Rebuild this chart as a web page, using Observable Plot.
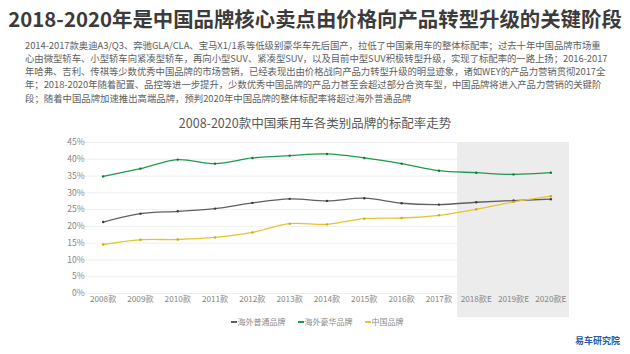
<!DOCTYPE html>
<html>
<head>
<meta charset="utf-8">
<script src="https://cdn.jsdelivr.net/npm/d3@7"></script>
<script src="https://cdn.jsdelivr.net/npm/@observablehq/plot@0.6"></script>
<style>
  html, body { margin: 0; padding: 0; background: #fff; }
  body { width: 630px; height: 354px; position: relative; overflow: hidden;
         font-family: "Noto Sans CJK SC", "Noto Sans", sans-serif; }
  #title { position: absolute; left: 0; top: 5px; width: 630px; text-align: center;
           font-size: 20.4px; font-weight: 700; color: #3b3b3b; line-height: 26px; white-space: nowrap; }
  #para { position: absolute; left: 25px; top: 38.5px; width: 600px; font-size: 9.4px; color: #5e5e5e; line-height: 13.25px; }
  #para div { white-space: nowrap; }
  #ctitle { position: absolute; left: 0; top: 114px; width: 630px; text-align: center;
            font-size: 12.5px; color: #595959; line-height: 18px; white-space: nowrap; }
  #chart { position: absolute; left: 0; top: 130px; }
  #legend { position: absolute; left: 0; top: 316px; width: 630px; display: flex; justify-content: center;
            gap: 12px; font-size: 8px; color: #8a8a8a; line-height: 12px; padding-left: 2px; }
  #legend .item { display: flex; align-items: center; }
  #legend .sw { width: 6px; height: 1.2px; margin-right: 1px; position: relative; }
  #logo { position: absolute; left: 575px; top: 334px; font-size: 9px; font-weight: 700; color: #2a5aa0; line-height: 14px; }
</style>
</head>
<body>
<div id="title"></div>
<div id="para"></div>
<div id="ctitle"></div>
<div id="chart"></div>
<div id="legend"></div>
<div id="logo">易车研究院</div>
<script>
const mainTitle = "2018-2020年是中国品牌核心卖点由价格向产品转型升级的关键阶段";
const paragraphLines = [
  "2014-2017款奥迪A3/Q3、奔驰GLA/CLA、宝马X1/1系等低级别豪华车先后国产，拉低了中国乘用车的整体标配率；过去十年中国品牌市场重",
  "心由微型轿车、小型轿车向紧凑型轿车，再向小型SUV、紧凑型SUV，以及目前中型SUV积极转型升级，实现了标配率的一路上扬；2016-2017",
  "年哈弗、吉利、传祺等少数优秀中国品牌的市场营销，已经表现出由价格战向产品力转型升级的明显迹象，诸如WEY的产品力营销贯彻2017全",
  "年；2018-2020年随着配置、品控等进一步提升，少数优秀中国品牌的产品力甚至会超过部分合资车型，中国品牌将进入产品力营销的关键阶",
  "段；随着中国品牌加速推出高端品牌，预判2020年中国品牌的整体标配率将超过海外普通品牌"
];
const chartTitle = "2008-2020款中国乘用车各类别品牌的标配率走势";

const years = [2008, 2009, 2010, 2011, 2012, 2013, 2014, 2015, 2016, 2017, 2018, 2019, 2020];
const estimateFrom = 2018;
const seriesNames = ["海外普通品牌", "海外豪华品牌", "中国品牌"];
const foreignMass   = [21.3, 23.8, 24.5, 25.3, 27.0, 28.2, 27.6, 28.4, 26.9, 26.5, 27.2, 27.7, 28.1];
const foreignLuxury = [34.9, 37.2, 39.9, 38.7, 40.4, 41.1, 41.6, 40.4, 38.7, 36.6, 36.0, 35.5, 36.0];
const chinese       = [14.6, 16.0, 16.1, 16.7, 18.2, 20.8, 20.6, 22.3, 22.5, 23.3, 25.1, 27.3, 29.0];
const yTicks = [0, 5, 10, 15, 20, 25, 30, 35, 40, 45];
const colors = ["#5f5f5f", "#1f9a4c", "#e3c531"];
const markerColors = ["#3a3a3a", "#17703a", "#c9a91a"];

document.getElementById("title").textContent = mainTitle;
document.getElementById("para").innerHTML = paragraphLines.map(l => `<div>${l}</div>`).join("");
document.getElementById("ctitle").textContent = chartTitle;

// fit full paragraph lines to width
document.querySelectorAll("#para div").forEach((d, i) => {
  if (i < paragraphLines.length - 1) {
    const w = d.scrollWidth;
    const target = 597;
    const n = d.textContent.length;
    d.style.letterSpacing = ((target - w) / n) + "px";
  }
});

const allSeries = [foreignMass, foreignLuxury, chinese];
const data = [];
allSeries.forEach((vals, si) => years.forEach((yr, i) => data.push({series: seriesNames[si], year: yr, value: vals[i]})));
const band = [{x1: estimateFrom - 0.5, x2: years[years.length - 1] + 0.5, y1: -7.2, y2: 45}];

const chart = Plot.plot({
  width: 630,
  height: 200,
  marginTop: 12,
  marginBottom: 37,
  marginLeft: 84,
  marginRight: 61,
  style: {fontFamily: "'Noto Sans CJK SC', 'Noto Sans', sans-serif", background: "transparent"},
  x: {type: "linear", domain: [years[0] - 0.5, years[years.length - 1] + 0.5]},
  y: {domain: [0, 45]},
  color: {domain: seriesNames, range: colors},
  marks: [
    Plot.ruleY(yTicks, {stroke: "#ebebeb", strokeWidth: 0.8}),
    Plot.rect(band, {x1: "x1", x2: "x2", y1: "y1", y2: "y2", fill: "#ececec"}),
    Plot.axisY({ticks: yTicks, tickFormat: d => d + "%", tickSize: 0, tickPadding: 0, fontSize: 8.5, fill: "#858585"}),
    Plot.axisX({ticks: years, tickFormat: d => d + "款" + (d >= estimateFrom ? "E" : ""), tickSize: 0, tickPadding: 3, fontSize: 8.2, fill: "#858585"}),
    Plot.line(data, {x: "year", y: "value", z: "series", stroke: "series", strokeWidth: 1.3, curve: "catmull-rom"}),
    Plot.dot(data, {x: "year", y: "value", r: 1.2, fill: d => markerColors[seriesNames.indexOf(d.series)], stroke: null})
  ]
});
document.getElementById("chart").appendChild(chart);

const legend = document.getElementById("legend");
seriesNames.forEach((name, i) => {
  const it = document.createElement("div");
  it.className = "item";
  it.innerHTML = `<span class="sw" style="background:${colors[i]}"></span><span>${name}</span>`;
  legend.appendChild(it);
});
</script>
</body>
</html>
